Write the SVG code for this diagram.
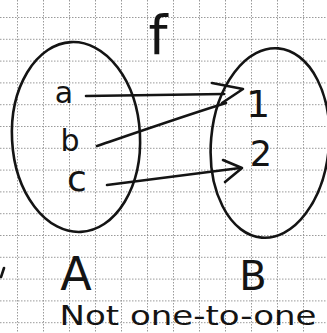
<svg xmlns="http://www.w3.org/2000/svg" width="327" height="333" viewBox="0 0 327 333">
<defs>
<style>
.grid{stroke:#9a9a9a;stroke-width:1;stroke-dasharray:1.5 1.5;fill:none}
.ink{stroke:#141414;stroke-width:2.6;fill:none;stroke-linecap:round;stroke-linejoin:round}
.lbl{font-family:"DejaVu Sans","Liberation Sans",sans-serif;fill:#141414;text-anchor:middle}
</style>
</defs>
<rect width="327" height="333" fill="#ffffff"/>
<g id="grid" class="grid">
<path d="M17.5,0V333M43.5,0V333M69.5,0V333M95.5,0V333M121.5,0V333M147.5,0V333M173.5,0V333M199.5,0V333M225.5,0V333M251.5,0V333M277.5,0V333M303.5,0V333"/>
<path d="M0,17.5H327M0,39.3H327M0,61.1H327M0,82.9H327M0,104.7H327M0,126.5H327M0,148.3H327M0,170.1H327M0,191.9H327M0,213.7H327M0,235.5H327M0,257.3H327M0,279.1H327M0,300.9H327M0,322.7H327"/>
</g>
<g id="title-f"><text class="lbl" x="158" y="54" font-size="54">f</text></g>
<g id="set-A">
<ellipse class="ink" cx="76" cy="137" rx="64" ry="95" transform="rotate(-3 76 137)"/>
<text class="lbl" x="76" y="290" font-size="46">A</text>
</g>
<g id="set-B">
<ellipse class="ink" cx="270" cy="143" rx="59" ry="95" transform="rotate(5 270 143)"/>
<text class="lbl" x="253" y="290" font-size="40">B</text>
</g>
<g id="elem-a"><text class="lbl" x="64" y="103" font-size="30">a</text></g>
<g id="elem-b"><text class="lbl" x="70" y="151" font-size="30">b</text></g>
<g id="elem-c"><text class="lbl" x="77" y="191" font-size="36">c</text></g>
<g id="elem-1"><text class="lbl" x="258" y="117" font-size="38">1</text></g>
<g id="elem-2"><text class="lbl" x="261" y="166" font-size="35">2</text></g>
<g id="connectors" class="ink">
<path d="M86,96 L224,94"/>
<path d="M97,146 C135,133 190,114 226,103"/>
<path d="M212,83 L243,89 L222,103"/>
<path d="M107,185 L240,168"/>
<path d="M223,160 L242,168 L225,182"/>
</g>
<g id="caption"><text class="lbl" x="188" y="325" font-size="27" textLength="257" lengthAdjust="spacingAndGlyphs">Not one-to-one</text></g>
<path class="ink" d="M4,268 L1,277"/>
</svg>
